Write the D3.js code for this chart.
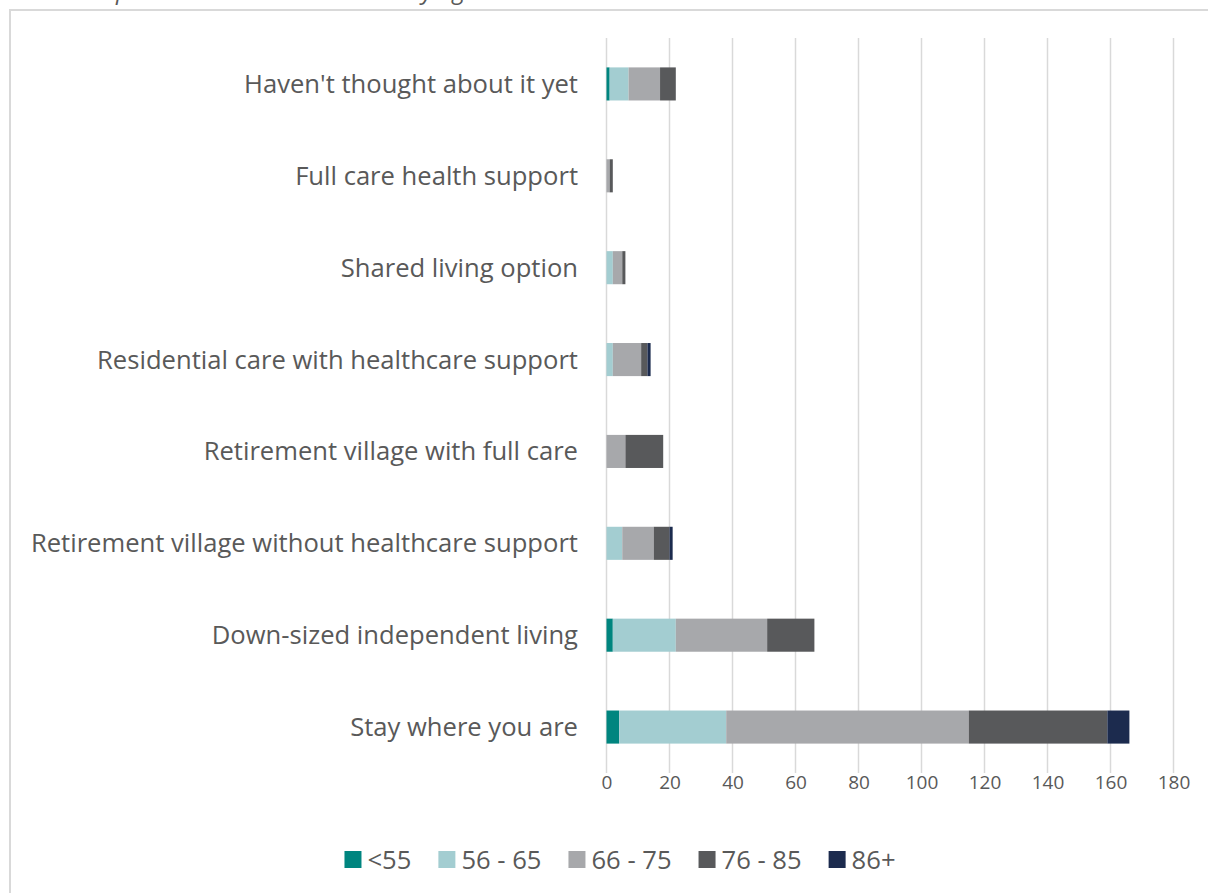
<!DOCTYPE html>
<html>
<head>
<meta charset="utf-8">
<script src="https://cdn.jsdelivr.net/npm/d3@7"></script>
<style>
  html, body { margin: 0; padding: 0; background: #ffffff; }
  svg { display: block; }
  text { font-family: "Open Sans", "Noto Sans", sans-serif; fill: #595959; }
</style>
</head>
<body>
<svg id="chart" width="1208" height="893"></svg>
<script>
// Preferred living arrangement, stacked by age group
const categories = [
  "Haven't thought about it yet",
  "Full care health support",
  "Shared living option",
  "Residential care with healthcare support",
  "Retirement village with full care",
  "Retirement village without healthcare support",
  "Down-sized independent living",
  "Stay where you are"
];
const ageGroups = ["<55", "56 - 65", "66 - 75", "76 - 85", "86+"];
const under55   = [1, 0, 0, 0, 0, 0, 2, 4];
const age56to65 = [6, 0, 2, 2, 0, 5, 20, 34];
const age66to75 = [10, 1, 3, 9, 6, 10, 29, 77];
const age76to85 = [5, 1, 1, 2, 12, 5, 15, 44];
const age86plus = [0, 0, 0, 1, 0, 1, 0, 7];
const xTicks = [0, 20, 40, 60, 80, 100, 120, 140, 160, 180];
const titleText = "Responses to retirement home by age";

const colors = ["#00857f", "#a3cdd1", "#a7a8ab", "#58595b", "#1c2b4e"];
const seriesValues = [under55, age56to65, age66to75, age76to85, age86plus];

const rows = categories.map((c, i) => {
  const r = { category: c };
  ageGroups.forEach((g, k) => { r[g] = seriesValues[k][i]; });
  return r;
});
const stacked = d3.stack().keys(ageGroups)(rows);

const svg = d3.select("#chart");

// outer frame
svg.append("rect")
  .attr("x", 10).attr("y", 10)
  .attr("width", 1220).attr("height", 910)
  .attr("fill", "none").attr("stroke", "#d9d9d9").attr("stroke-width", 2);

// title sits above the frame
svg.append("text")
  .attr("x", 80).attr("y", -1)
  .attr("font-size", 24).attr("font-style", "italic")
  .attr("fill", "#404040")
  .text(titleText);

const x = d3.scaleLinear().domain([0, 180]).range([606.5, 1173.5]);
const y = d3.scaleBand().domain(categories).range([38, 773])
  .paddingInner(0.64).paddingOuter(0.32);

// vertical gridlines
svg.append("g")
  .selectAll("line").data(xTicks).join("line")
  .attr("x1", d => x(d)).attr("x2", d => x(d))
  .attr("y1", 38).attr("y2", 773)
  .attr("stroke", "#d9d9d9").attr("stroke-width", 1.5);

// stacked bars
svg.append("g")
  .selectAll("g").data(stacked).join("g")
  .attr("fill", (d, i) => colors[i])
  .selectAll("rect").data(d => d).join("rect")
  .attr("x", d => x(d[0]))
  .attr("y", d => y(d.data.category))
  .attr("width", d => Math.max(0, x(d[1]) - x(d[0])))
  .attr("height", y.bandwidth());

// category labels
svg.append("g")
  .selectAll("text").data(categories).join("text")
  .attr("x", 578)
  .attr("y", d => y(d) + y.bandwidth() / 2)
  .attr("dy", "0.35em")
  .attr("text-anchor", "end")
  .attr("font-size", 25.6)
  .text(d => d);

// value axis labels
const xAxis = d3.axisBottom(x).tickValues(xTicks).tickSize(0).tickPadding(0);
const axisG = svg.append("g").attr("transform", "translate(0,773)").call(xAxis);
axisG.select(".domain").remove();
axisG.selectAll("text")
  .attr("y", 16).attr("dy", 0)
  .attr("font-size", 19)
  .attr("fill", "#595959")
  .style("font-family", "\"Open Sans\", \"Noto Sans\", sans-serif");

// legend
const legend = svg.append("g");
const items = legend.selectAll("g").data(ageGroups).join("g");
items.append("rect")
  .attr("width", 17).attr("height", 17)
  .attr("y", -17)
  .attr("fill", (d, i) => colors[i]);
items.append("text")
  .attr("x", 23).attr("y", 0)
  .attr("dy", "0.02em")
  .attr("font-size", 25.6)
  .text(d => d);
const gap = 27;
let cursor = 0;
const offsets = [];
items.each(function () {
  offsets.push(cursor);
  const w = d3.select(this).select("text").node().getComputedTextLength();
  cursor += 23 + w + gap;
});
const total = cursor - gap;
items.attr("transform", (d, i) => `translate(${offsets[i]},0)`);
legend.attr("transform", `translate(${620 - total / 2},868)`);
</script>
</body>
</html>
